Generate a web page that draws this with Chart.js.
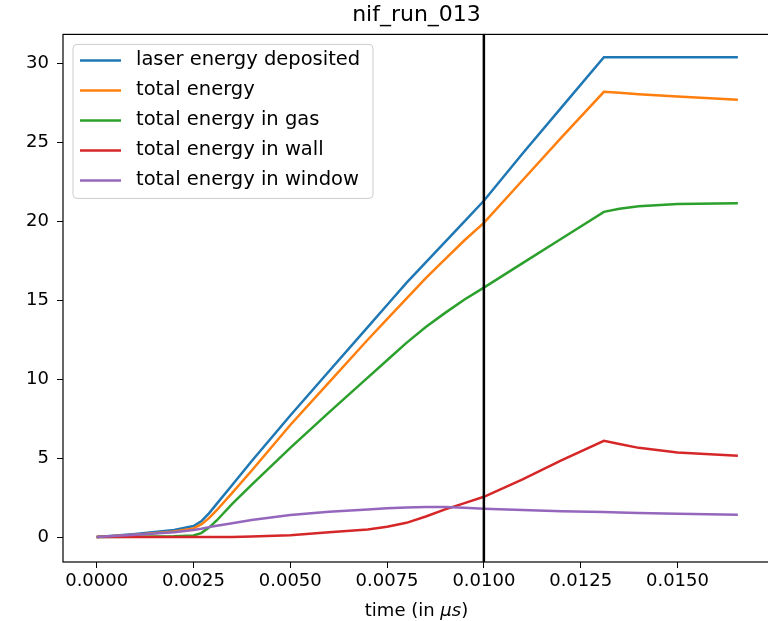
<!DOCTYPE html>
<html>
<head>
<meta charset="utf-8">
<script src="https://cdn.jsdelivr.net/npm/chart.js@4.4.0/dist/chart.umd.min.js"></script>
<style>
html, body { margin: 0; padding: 0; background: #fff; overflow: hidden; }
#wrap { width: 772px; height: 621px; }
</style>
</head>
<body>
<div id="wrap"><canvas id="chartLine" width="772" height="621"></canvas></div>
<script>
// time samples (in us) shared by every series
const times = [0, 0.001, 0.002, 0.0025, 0.0027, 0.0029, 0.0031, 0.0035, 0.004, 0.005, 0.006, 0.007,
    0.0075, 0.008, 0.0085, 0.009, 0.0095, 0.010, 0.011, 0.012, 0.0131, 0.0135, 0.014, 0.015, 0.01656];

const laserDeposited = [0, 0.2, 0.45, 0.7, 1.0, 1.5, 2.1, 3.3, 4.8, 7.7, 10.5, 13.3,
    14.7, 16.1, 17.4, 18.7, 20.0, 21.3, 24.3, 27.2, 30.4, 30.4, 30.4, 30.4, 30.4];
const totalEnergy = [0, 0.15, 0.35, 0.55, 0.8, 1.2, 1.7, 2.8, 4.2, 7.1, 9.8, 12.5,
    13.8, 15.1, 16.4, 17.6, 18.8, 19.9, 22.6, 25.3, 28.2, 28.15, 28.05, 27.9, 27.7];
const energyGas = [0, 0.02, 0.05, 0.1, 0.25, 0.6, 1.05, 2.1, 3.3, 5.65, 7.9, 10.1,
    11.2, 12.3, 13.3, 14.2, 15.05, 15.8, 17.35, 18.9, 20.6, 20.8, 20.95, 21.1, 21.15];
const energyWall = [0, 0, 0, 0, 0, 0, 0, 0.01, 0.03, 0.12, 0.3, 0.48,
    0.65, 0.9, 1.3, 1.75, 2.15, 2.55, 3.65, 4.85, 6.1, 5.9, 5.65, 5.35, 5.15];
const energyWindow = [0, 0.15, 0.3, 0.45, 0.53, 0.63, 0.72, 0.88, 1.08, 1.4, 1.6, 1.75,
    1.82, 1.87, 1.9, 1.9, 1.86, 1.8, 1.72, 1.64, 1.58, 1.56, 1.53, 1.48, 1.42];

const xTicks = [0, 0.0025, 0.005, 0.0075, 0.01, 0.0125, 0.015];
const yTicks = [0, 5, 10, 15, 20, 25, 30];
const markerTime = 0.01;

const FONT = '"DejaVu Sans", sans-serif';

const series = [
    { label: 'laser energy deposited', color: '#1f77b4', values: laserDeposited },
    { label: 'total energy', color: '#ff7f0e', values: totalEnergy },
    { label: 'total energy in gas', color: '#2ca02c', values: energyGas },
    { label: 'total energy in wall', color: '#d62728', values: energyWall },
    { label: 'total energy in window', color: '#9467bd', values: energyWindow }
];

// spines, vertical marker, x label with italic unit, boxed legend
const framePlugin = {
    id: 'frame',
    afterDatasetsDraw(chart) {
        const c = chart.ctx, a = chart.chartArea;
        const xp = chart.scales.x.getPixelForValue(markerTime);
        c.save();
        c.strokeStyle = '#000';
        c.lineWidth = 2.5;
        c.beginPath();
        c.moveTo(xp, a.top);
        c.lineTo(xp, a.bottom);
        c.stroke();
        c.lineWidth = 1.2;
        c.strokeRect(a.left, a.top, a.right - a.left, a.bottom - a.top);
        c.restore();
    },
    afterDraw(chart) {
        const c = chart.ctx, a = chart.chartArea;
        c.save();

        // x axis label: "time (in μs)" with the unit in italics
        const parts = [['time (in ', '18px ' + FONT], ['μs', 'italic 18px ' + FONT], [')', '18px ' + FONT]];
        let total = 0;
        parts.forEach(p => { c.font = p[1]; total += c.measureText(p[0]).width; });
        let px = (a.left + a.right) / 2 - total / 2;
        c.fillStyle = '#000';
        c.textBaseline = 'middle';
        parts.forEach(p => {
            c.font = p[1];
            c.fillText(p[0], px, 611);
            px += c.measureText(p[0]).width;
        });

        // legend
        const bx = a.left + 10, by = a.top + 10;
        c.beginPath();
        c.roundRect(bx, by, 300, 154, 4);
        c.fillStyle = 'rgba(255,255,255,0.8)';
        c.fill();
        c.strokeStyle = '#cccccc';
        c.lineWidth = 1;
        c.stroke();
        c.font = '19.5px ' + FONT;
        series.forEach((s, i) => {
            const y = by + 16 + i * 30;
            c.strokeStyle = s.color;
            c.lineWidth = 2.5;
            c.beginPath();
            c.moveTo(bx + 7, y);
            c.lineTo(bx + 48, y);
            c.stroke();
            c.fillStyle = '#000';
            c.fillText(s.label, bx + 63, y);
        });
        c.restore();
    }
};

const ctx = document.getElementById('chartLine').getContext('2d');

new Chart(ctx, {
    type: 'line',
    data: {
        datasets: series.map((s, i) => ({
            label: s.label,
            data: times.map((t, j) => ({ x: t, y: s.values[j] })),
            borderColor: s.color,
            backgroundColor: s.color,
            borderWidth: 2.5,
            pointRadius: 0,
            tension: 0,
            order: series.length - i
        }))
    },
    options: {
        responsive: false,
        animation: false,
        devicePixelRatio: 1,
        layout: { padding: { left: 0, right: 2, top: 0, bottom: 0 } },
        plugins: {
            legend: { display: false },
            tooltip: { enabled: false },
            title: {
                display: true,
                fullSize: false,
                text: 'nif_run_013',
                color: '#000',
                font: { family: FONT, size: 22, weight: 'normal' },
                padding: { top: 2, bottom: 6 }
            }
        },
        scales: {
            x: {
                type: 'linear',
                min: -0.00087,
                max: 0.01739,
                border: { display: false },
                grid: { drawOnChartArea: false, tickLength: 6, color: '#000' },
                afterBuildTicks: s => { s.ticks = xTicks.map(v => ({ value: v })); },
                afterFit: s => { s.height = 59; },
                ticks: {
                    color: '#000',
                    font: { family: FONT, size: 18 },
                    padding: 3,
                    maxRotation: 0,
                    autoSkip: false,
                    callback: v => v.toFixed(4)
                }
            },
            y: {
                min: -1.58,
                max: 31.84,
                border: { display: false },
                grid: { drawOnChartArea: false, tickLength: 6, color: '#000' },
                afterBuildTicks: s => { s.ticks = yTicks.map(v => ({ value: v })); },
                afterFit: s => { s.width = 63; },
                ticks: {
                    color: '#000',
                    font: { family: FONT, size: 18 },
                    padding: 8,
                    callback: v => String(v)
                }
            }
        }
    },
    plugins: [framePlugin]
});
</script>
</body>
</html>
